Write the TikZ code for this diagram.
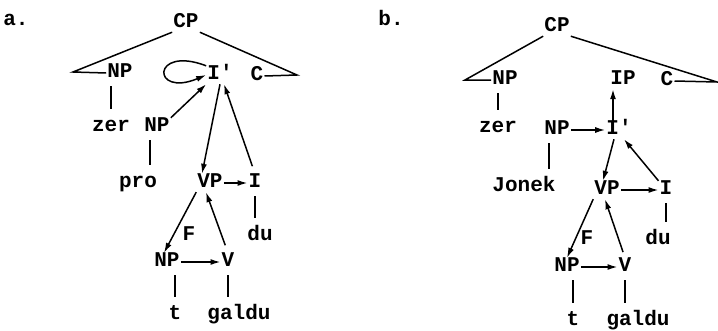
\documentclass[tikz,border=0pt]{standalone}
\usepackage{fontspec}
\newfontfamily\treefont{Liberation Mono}
\usepackage{tikz}
\usetikzlibrary{arrows.meta}

\begin{document}
\begin{tikzpicture}[x=1pt, y=-1pt,
    lab/.style={font=\treefont\bfseries\fontsize{21}{23}\selectfont, inner sep=1pt, text height=12pt, text depth=4pt},
    edge/.style={line width=1.5pt},
    bar/.style={line width=1.5pt, shorten <=4pt, shorten >=9pt},
    arr/.style={-{Latex[length=10pt,width=6pt]}, line width=1.5pt},
]
    \useasboundingbox (0,0) rectangle (718,330);

    % a.
    \node[lab] (la) at (16,21) {a.};
    \node[lab] (cpA) at (186,23) {CP};
    \node[lab] (npA1) at (120,73) {NP};
    \node[lab] (ibarA) at (220,75) {I'};
    \node[lab] (cA) at (257,76) {C};
    \coordinate (tlA) at (73,72);
    \coordinate (trA) at (297,75);
    \node[lab] (zerA) at (111,127) {zer};
    \node[lab] (npA2) at (157,127) {NP};
    \node[lab] (proA) at (138,183) {pro};
    \node[lab] (vpA) at (210,183) {VP};
    \node[lab] (iA) at (255,183) {I};
    \node[lab] (duA) at (260,236) {du};
    \node[lab] (fA) at (189,236) {F};
    \node[lab] (npA3) at (167,262) {NP};
    \node[lab] (vA) at (228,262) {V};
    \node[lab] (tA) at (175,315) {t};
    \node[lab] (galduA) at (239,315) {galdu};

    \draw[edge] (cpA.south west) -- (tlA) -- (npA1.west);
    \draw[edge] (cpA.south east) -- (trA) -- (cA.east);
    \draw[arr] (ibarA.north west) .. controls +(-55,-21) and +(-55,23) .. (ibarA.west);
    \draw[arr] (npA2.north east) -- (ibarA.south west);
    \draw[arr] (ibarA.south) -- ([xshift=-8pt]vpA.north);
    \draw[arr, shorten <=8pt] (iA.north) -- ([xshift=4pt]ibarA.south);
    \draw[arr] (vpA) -- (iA);
    \draw[arr] (vpA.south west) -- ([xshift=-3pt]npA3.north);
    \draw[arr, shorten <=8pt] (vA.north) -- ([xshift=-4pt]vpA.south);
    \draw[arr] (npA3) -- (vA);
    \draw[bar] (npA1.south -| zerA.north) -- (zerA.north);
    \draw[bar] ([xshift=-7pt]npA2.south) -- ([xshift=-7pt]npA2.south |- proA.north);
    \draw[bar] (iA.south) -- (iA.south |- duA.north);
    \draw[bar] (npA3.south -| tA.north) -- (tA.north);
    \draw[bar] (vA.south) -- (vA.south |- galduA.north);

    % b.
    \node[lab] (lb) at (391,21) {b.};
    \node[lab] (cpB) at (557,27) {CP};
    \node[lab] (npB1) at (505,80) {NP};
    \node[lab] (ipB) at (623,80) {IP};
    \node[lab] (cB) at (667,81) {C};
    \coordinate (tlB) at (465,80);
    \coordinate (trB) at (717,82);
    \node[lab] (zerB) at (498,128) {zer};
    \node[lab] (npB2) at (557,130) {NP};
    \node[lab] (ibarB) at (619,130) {I'};
    \node[lab] (jonekB) at (524,187) {Jonek};
    \node[lab] (vpB) at (607,190) {VP};
    \node[lab] (iB) at (666,190) {I};
    \node[lab] (duB) at (658,240) {du};
    \node[lab] (fB) at (587,240) {F};
    \node[lab] (npB3) at (567,267) {NP};
    \node[lab] (vB) at (625,267) {V};
    \node[lab] (tB) at (573,321) {t};
    \node[lab] (galduB) at (638,321) {galdu};

    \draw[edge] (cpB.south west) -- (tlB) -- (npB1.west);
    \draw[edge] (cpB.south east) -- (trB) -- (cB.east);
    \draw[arr] (npB2) -- (ibarB);
    \draw[arr] ([xshift=-6pt]ibarB.north) -- ([xshift=-6pt]ibarB.north |- ipB.south);
    \draw[arr] ([xshift=-5pt]ibarB.south) -- ([xshift=-4pt]vpB.north);
    \draw[arr] (iB.north west) -- ([xshift=5pt]ibarB.south);
    \draw[arr] (vpB) -- (iB);
    \draw[arr] (vpB.south west) -- (npB3.north);
    \draw[arr, shorten <=6pt] (vB.north) -- ([xshift=-2pt]vpB.south);
    \draw[arr] (npB3) -- (vB);
    \draw[bar] (npB1.south -| zerB.north) -- (zerB.north);
    \draw[bar] ([xshift=-8pt]npB2.south) -- ([xshift=-8pt]npB2.south |- jonekB.north);
    \draw[bar] (iB.south) -- (iB.south |- duB.north);
    \draw[bar] (npB3.south -| tB.north) -- (tB.north);
    \draw[bar] (vB.south) -- (vB.south |- galduB.north);
\end{tikzpicture}
\end{document}
